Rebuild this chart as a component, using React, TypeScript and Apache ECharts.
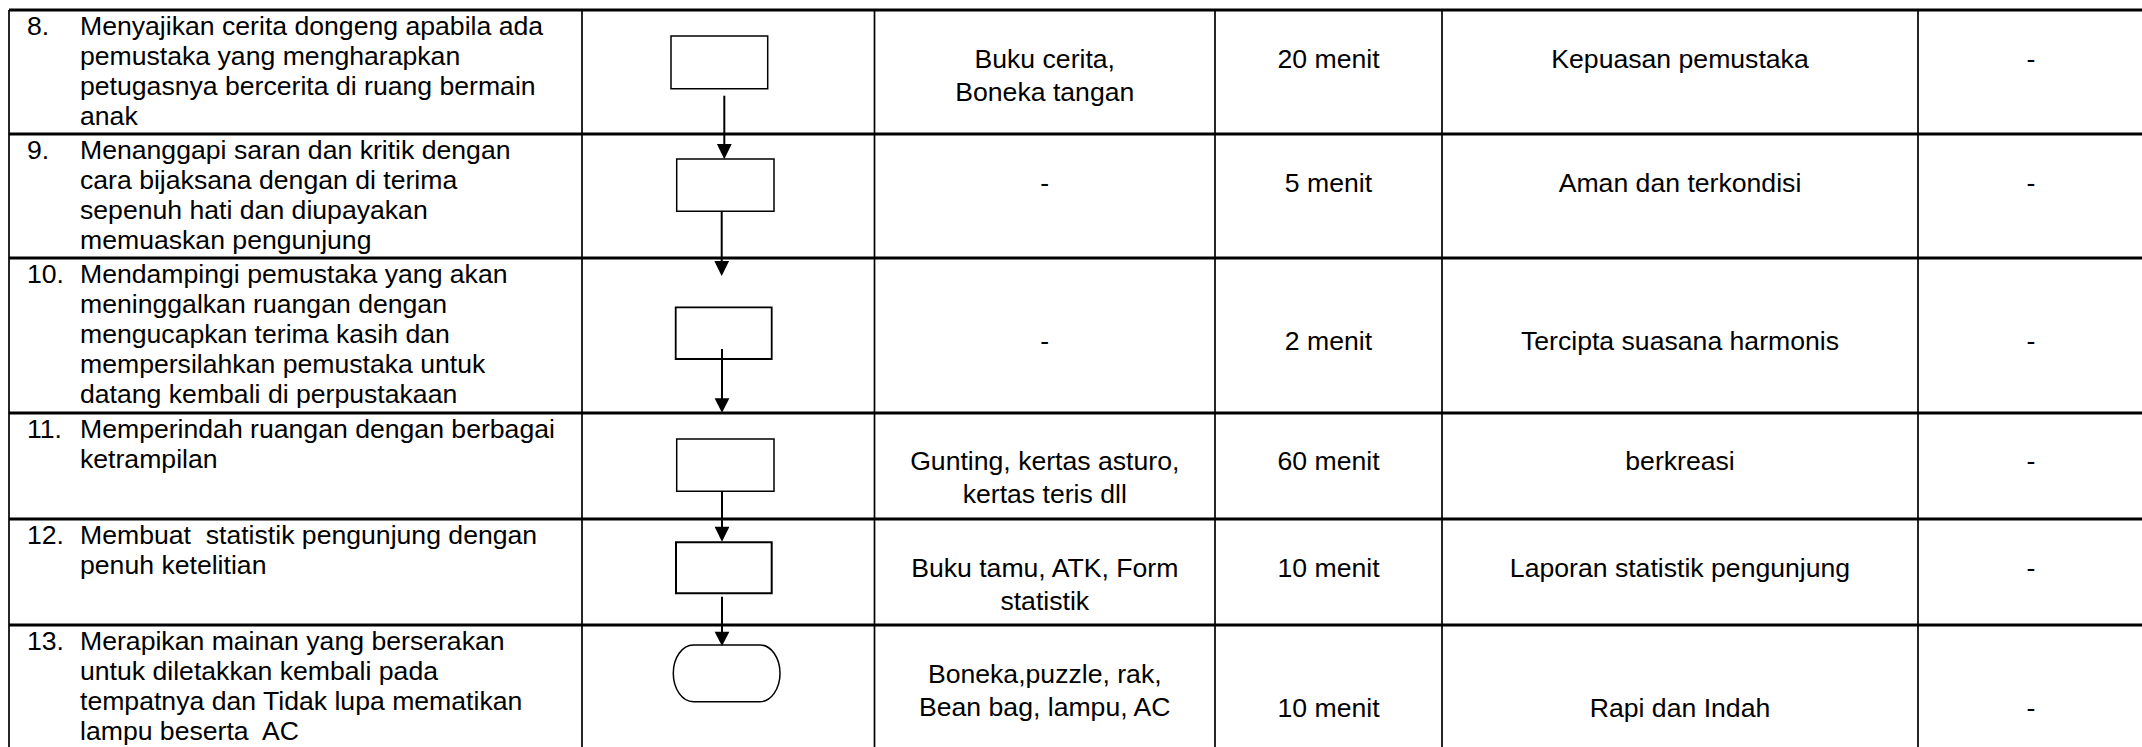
import React, { useEffect, useRef } from "react";
import * as echarts from "echarts";

// ---------- content ----------
const stepNumbers = ["8.", "9.", "10.", "11.", "12.", "13."];

const activities: string[][] = [
  ["Menyajikan cerita dongeng apabila ada", "pemustaka yang mengharapkan", "petugasnya bercerita di ruang bermain", "anak"],
  ["Menanggapi saran dan kritik dengan", "cara bijaksana dengan di terima", "sepenuh hati dan diupayakan", "memuaskan pengunjung"],
  ["Mendampingi pemustaka yang akan", "meninggalkan ruangan dengan", "mengucapkan terima kasih dan", "mempersilahkan pemustaka untuk", "datang kembali di perpustakaan"],
  ["Memperindah ruangan dengan berbagai", "ketrampilan"],
  ["Membuat  statistik pengunjung dengan", "penuh ketelitian"],
  ["Merapikan mainan yang berserakan", "untuk diletakkan kembali pada", "tempatnya dan Tidak lupa mematikan", "lampu beserta  AC"],
];

const equipment: string[][] = [
  ["Buku cerita,", "Boneka tangan"],
  ["-"],
  ["-"],
  ["Gunting, kertas asturo,", "kertas teris dll"],
  ["Buku tamu, ATK, Form", "statistik"],
  ["Boneka,puzzle, rak,", "Bean bag, lampu, AC"],
];

const durations = ["20 menit", "5 menit", "2 menit", "60 menit", "10 menit", "10 menit"];
const outputs = ["Kepuasan pemustaka", "Aman dan terkondisi", "Tercipta suasana harmonis", "berkreasi", "Laporan statistik pengunjung", "Rapi dan Indah"];
const notes = ["-", "-", "-", "-", "-", "-"];
const flowSymbols = ["process", "process", "process", "process", "process", "terminator"];

// ---------- layout ----------
const ROW_TOPS = [10, 134, 258, 413, 519, 625];
const TABLE_BOTTOM = 747;
const TABLE_RIGHT = 2142;
const COL_X = [9, 582, 874.5, 1215, 1442, 1918];
const NOTE_CENTER = 2031;
const FS = 25;
const SX = 1.065;
const FONT = `${FS}px "Liberation Sans", Arial, sans-serif`;
const LEFT_FIRST = 25;
const LEFT_STEP = 30;
const RIGHT_STEP = 33.3;
const EQUIP_FIRST = [58, 58, 92, 57, 58, 58];
const OTHER_FIRST = [57.5, 57.7, 92, 57, 57.7, 91.7];

const BOXES = [
  { x: 671, y: 36, w: 96.7, h: 52.7, lw: 1.5 },
  { x: 676.7, y: 159, w: 97.3, h: 52.3, lw: 1.5 },
  { x: 675.7, y: 307.3, w: 96, h: 51.7, lw: 1.8 },
  { x: 676.7, y: 439, w: 97.3, h: 52.3, lw: 1.5 },
  { x: 676, y: 542.3, w: 95.7, h: 51, lw: 2 },
  { x: 673.3, y: 645, w: 106.7, h: 56.7, lw: 1.5 },
];
const ARROWS = [
  { x: 724.3, y1: 95.7, head: 144, tip: 159.3 },
  { x: 721.7, y1: 211.3, head: 261, tip: 276 },
  { x: 722, y1: 349, head: 398.3, tip: 412.7 },
  { x: 722, y1: 491.3, head: 526.7, tip: 541.7 },
  { x: 722, y1: 596.7, head: 631.7, tip: 646 },
];

function terminatorPath(b: { x: number; y: number; w: number; h: number }) {
  const rx = 20;
  const ry = b.h / 2;
  const l = b.x + rx;
  const r = b.x + b.w - rx;
  const t = b.y;
  const bt = b.y + b.h;
  return `M${l},${t} L${r},${t} A${rx},${ry} 0 0 1 ${r},${bt} L${l},${bt} A${rx},${ry} 0 0 1 ${l},${t} Z`;
}

let registered = false;
function ensureShape() {
  if (registered) return;
  const term = BOXES[5];
  echarts.graphic.registerShape("terminator", echarts.graphic.extendPath(terminatorPath(term), {}) as any);
  registered = true;
}

function txt(text: string, x: number, baseline: number, align: "left" | "center") {
  return {
    type: "text",
    x,
    y: baseline - 0.347 * FS,
    scaleX: SX,
    silent: true,
    style: {
      text,
      x: 0,
      y: 0,
      fill: "#000",
      font: FONT,
      align,
      textAlign: align,
      verticalAlign: "middle",
      textVerticalAlign: "middle",
    },
  };
}

function buildGraphics() {
  const els: any[] = [];
  els.push({ type: "rect", shape: { x: 0, y: 0, width: 2142, height: 747 }, style: { fill: "#fff" }, silent: true });

  COL_X.forEach((x) => {
    els.push({ type: "line", shape: { x1: x, y1: ROW_TOPS[0], x2: x, y2: TABLE_BOTTOM }, style: { stroke: "#000", lineWidth: 1.7 }, silent: true });
  });
  ROW_TOPS.forEach((y) => {
    els.push({ type: "line", shape: { x1: COL_X[0], y1: y, x2: TABLE_RIGHT, y2: y }, style: { stroke: "#000", lineWidth: 2.8 }, silent: true });
  });

  ROW_TOPS.forEach((top, i) => {
    els.push(txt(stepNumbers[i], 27, top + LEFT_FIRST, "left"));
    activities[i].forEach((line, k) => {
      els.push(txt(line, 80, top + LEFT_FIRST + k * LEFT_STEP, "left"));
    });
    const eqCenter = (COL_X[2] + COL_X[3]) / 2;
    equipment[i].forEach((line, k) => {
      els.push(txt(line, eqCenter, top + EQUIP_FIRST[i] + k * RIGHT_STEP, "center"));
    });
    els.push(txt(durations[i], (COL_X[3] + COL_X[4]) / 2, top + OTHER_FIRST[i], "center"));
    els.push(txt(outputs[i], (COL_X[4] + COL_X[5]) / 2, top + OTHER_FIRST[i], "center"));
    els.push(txt(notes[i], NOTE_CENTER, top + OTHER_FIRST[i], "center"));

    const b = BOXES[i];
    if (flowSymbols[i] === "terminator") {
      els.push({ type: "terminator", x: 0, y: 0, style: { fill: "#fff", stroke: "#000", lineWidth: b.lw }, silent: true });
    } else {
      els.push({ type: "rect", shape: { x: b.x, y: b.y, width: b.w, height: b.h }, style: { fill: "#fff", stroke: "#000", lineWidth: b.lw }, silent: true });
    }
  });

  ARROWS.forEach((a) => {
    els.push({ type: "line", shape: { x1: a.x, y1: a.y1, x2: a.x, y2: a.head + 1 }, style: { stroke: "#000", lineWidth: 2 }, silent: true });
    els.push({
      type: "polygon",
      shape: { points: [[a.x - 7.4, a.head], [a.x + 7.4, a.head], [a.x, a.tip]] },
      style: { fill: "#000" },
      silent: true,
    });
  });

  return els;
}

export default function App() {
  const ref = useRef<HTMLDivElement>(null);
  useEffect(() => {
    if (!ref.current) return;
    ensureShape();
    const chart = echarts.init(ref.current, undefined, { renderer: "svg" });
    chart.setOption({
      animation: false,
      backgroundColor: "#fff",
      graphic: { elements: buildGraphics() },
    });
    return () => chart.dispose();
  }, []);
  return (
    <div
      ref={ref}
      style={{ position: "fixed", left: 0, top: 0, width: 2142, height: 747, background: "#fff" }}
    />
  );
}
